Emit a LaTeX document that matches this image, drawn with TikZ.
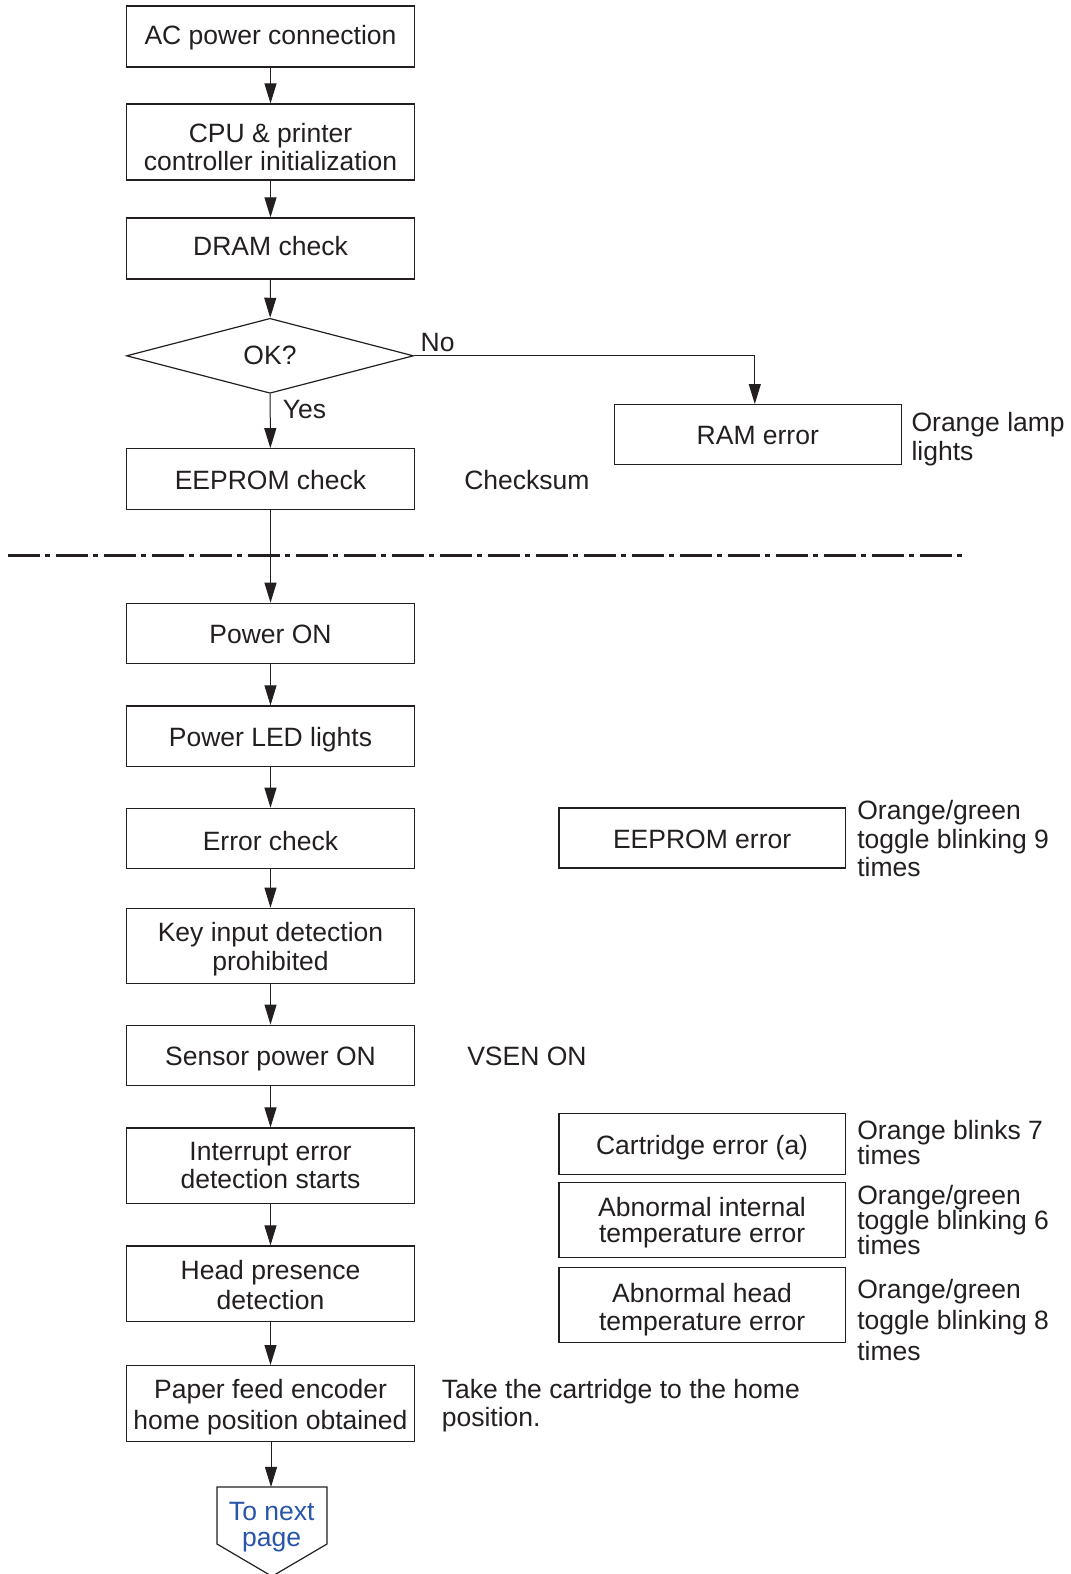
\documentclass[tikz,border=0pt]{standalone}
\usepackage{fontspec}
\setmainfont{Liberation Sans}
\usetikzlibrary{arrows.meta,shapes.geometric}
\definecolor{ink}{RGB}{35,31,32}
\definecolor{linkblue}{RGB}{40,85,170}
% box text: a centred stack, lowered a little without changing its reported size
\newcommand\bxtext[2][4.2bp]{\raisebox{-#1}[\height][\depth]{\begin{tabular}{@{}c@{}}#2\end{tabular}}}
\begin{document}
\begin{tikzpicture}[x=1.0037bp,y=-1.0037bp,
  every node/.style={text=ink},
  box/.style={draw=ink, line width=1.2bp, minimum width=288bp, minimum height=61bp, inner sep=0pt, font=\fontsize{26.5bp}{29bp}\selectfont},
  tbox/.style={box, minimum height=76bp},
  lbl/.style={font=\fontsize{26.5bp}{29bp}\selectfont, inner sep=0pt},
  note/.style={lbl, anchor=west, align=left},
  conn/.style={draw=ink, line width=1bp, -{Triangle[length=20bp,width=12bp]}},
]
\useasboundingbox (0,0) rectangle (1066.06,1568.2);

% left column
\node[box]  (ac)    at (269.5,36.3)  {\bxtext[2.2bp]{AC power connection}};
\node[tbox, font=\fontsize{26.5bp}{28bp}\selectfont] (cpu) at (269.5,141.5) {\bxtext[8.5bp]{CPU \& printer\\controller initialization}};
\node[box]  (dram)  at (269.5,247.5) {\bxtext[1.2bp]{DRAM check}};
\node[draw=ink, line width=1.2bp, diamond, minimum width=287bp, minimum height=75bp, inner sep=0pt, font=\fontsize{26.5bp}{29bp}\selectfont] (ok) at (269,354.5) {OK?};
\node[box]  (eep)   at (269.5,477.5) {\bxtext{EEPROM check}};
\node[box, minimum height=60bp] (pon) at (269.5,631) {\bxtext{Power ON}};
\node[box, minimum height=60.5bp]  (led)   at (269.5,733.5) {\bxtext{Power LED lights}};
\node[box, minimum height=60.5bp]  (err)   at (269.5,835.5) {\bxtext[6.5bp]{Error check}};
\node[box, minimum height=75.5bp, font=\fontsize{26.5bp}{28.5bp}\selectfont] (key) at (269.5,942.5) {\bxtext{Key input detection\\prohibited}};
\node[box, minimum height=60.5bp]  (sen)   at (269.5,1051.5) {\bxtext{Sensor power ON}};
\node[box, minimum height=75.5bp, font=\fontsize{26.5bp}{28.5bp}\selectfont] (intr) at (269.5,1161.5) {\bxtext[3bp]{Interrupt error\\detection starts}};
\node[box, minimum height=75.5bp, font=\fontsize{26.5bp}{29.5bp}\selectfont] (head) at (269.5,1279) {\bxtext[5bp]{Head presence\\detection}};
\node[box, minimum height=76bp, font=\fontsize{26.5bp}{30.5bp}\selectfont] (paper) at (269.5,1398.5) {\bxtext{Paper feed encoder\\home position obtained}};

% to next page (tip runs off the page bottom)
\coordinate (tn1) at (216.2,1481.5);
\coordinate (tn2) at (325.8,1481.5);
\draw[draw=ink, line width=1.2bp, line join=miter] (tn1) -- (tn2) -- (325.8,1538.3) -- (271,1570.5) -- (216.2,1538.3) -- cycle;
\node[lbl, text=linkblue, align=center, font=\fontsize{26.5bp}{26bp}\selectfont] (next) at (270.7,1521) {To next\\page};
\coordinate (tntop) at (270,1481.5);

% right column
\node[box, minimum width=287bp, minimum height=60bp] (ram) at (755,433) {\bxtext{RAM error}};
\node[box, minimum width=286bp, minimum height=60bp] (eeperr) at (699.5,835) {\bxtext{EEPROM error}};
\node[box, minimum width=286bp] (cart) at (699.5,1139.5) {\bxtext[5bp]{Cartridge error (a)}};
\node[box, minimum width=286bp, minimum height=75bp, font=\fontsize{26.5bp}{26bp}\selectfont] (aint) at (699.5,1215.5) {\bxtext[3.5bp]{Abnormal internal\\temperature error}};
\node[box, minimum width=286bp, minimum height=75bp, font=\fontsize{26.5bp}{28bp}\selectfont] (ahead) at (699.5,1300.5) {\bxtext[6bp]{Abnormal head\\temperature error}};

% labels
\node[lbl] (no) at (436,341) {No};
\node[lbl] (yes) at (303.4,408.5) {Yes};
\node[lbl] (chk) at (525,478) {Checksum};
\node[lbl] (vsen) at (525,1052) {VSEN ON};
\node[note] (n1) at (908,437.5) {Orange lamp\\lights};
\node[note, font=\fontsize{26.5bp}{28.5bp}\selectfont] (n2) at (854,835.5) {Orange/green\\toggle blinking 9\\times};
\node[note, font=\fontsize{26.5bp}{25bp}\selectfont] (n3) at (854,1138.5) {Orange blinks 7\\times};
\node[note, font=\fontsize{26.5bp}{25bp}\selectfont] (n4) at (854,1215.5) {Orange/green\\toggle blinking 6\\times};
\node[note, font=\fontsize{26.5bp}{31bp}\selectfont] (n5) at (854,1315) {Orange/green\\toggle blinking 8\\times};
\node[note, font=\fontsize{26.5bp}{28bp}\selectfont] (n6) at (440,1400) {Take the cartridge to the home\\position.};

% dash-dot separator
\coordinate (sepL) at (8,553.5);
\coordinate (sepR) at (960,553.5);
\draw[draw=ink, line width=2.6bp, dash pattern=on 32bp off 5bp on 5bp off 6bp] (sepL) -- (sepR);

% connectors
\draw[conn] (ac) -- (cpu);
\draw[conn] (cpu) -- (dram);
\draw[conn] (dram) -- (ok);
\draw[conn] (ok) -- (eep);
\draw[conn] (eep) -- (pon);
\draw[conn] (pon) -- (led);
\draw[conn] (led) -- (err);
\draw[conn] (err) -- (key);
\draw[conn] (key) -- (sen);
\draw[conn] (sen) -- (intr);
\draw[conn] (intr) -- (head);
\draw[conn] (head) -- (paper);
\draw[conn] (paper.south -| tntop) -- (tntop);
\draw[conn] (ok.east) -| ([xshift=-3bp]ram.north);
\end{tikzpicture}
\end{document}
